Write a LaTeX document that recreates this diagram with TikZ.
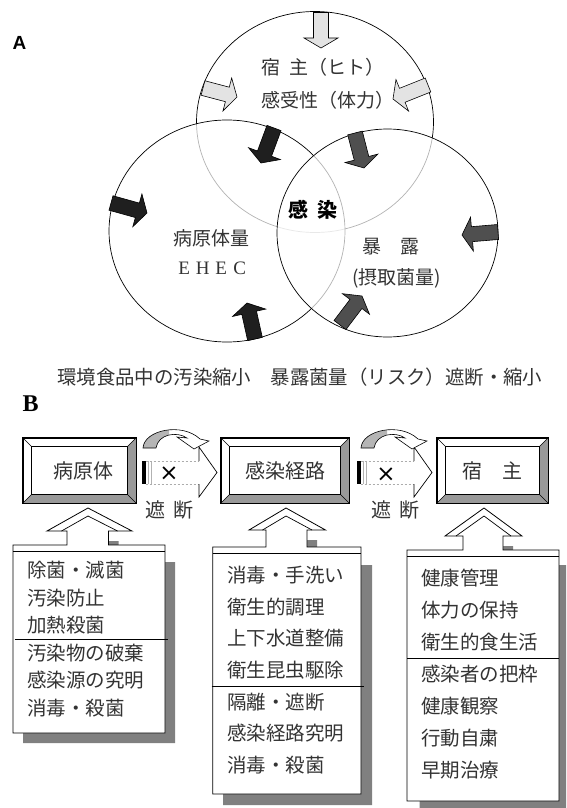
\documentclass[tikz,border=0pt]{standalone}
\usepackage{fontspec}
\setmainfont{Liberation Serif}
\newfontfamily\jp{Noto Sans CJK JP}
\newfontfamily\lsans{Liberation Sans}
\newfontfamily\dejavu{DejaVu Sans}
\usetikzlibrary{calc,shapes.geometric}
\newcommand\fs[1]{\fontsize{#1}{#1}\selectfont}
\definecolor{lgfill}{HTML}{E3E3E3}
\definecolor{dkfill}{HTML}{1F1F1F}
\definecolor{mdfill}{HTML}{4F4F4F}
\definecolor{bevgray}{HTML}{999999}
\definecolor{shadowgray}{HTML}{808080}
\definecolor{txtgray}{HTML}{333333}
\definecolor{bandgray}{HTML}{B5B5B5}
% block arrow: fill, tail, tip
\newcommand\barrow[3]{%
  \coordinate (ba) at #2;
  \coordinate (bb) at #3;
  \coordinate (bh) at ($(bb)!10pt!(ba)$);
  \draw[fill=#1, line width=0.6pt, line join=miter]
    ($(ba)!7.5pt!90:(bb)$) -- ($(bh)!7.5pt!90:(bb)$) -- ($(bh)!17pt!90:(bb)$)
    -- (bb) -- ($(bh)!17pt!-90:(bb)$) -- ($(bh)!7.5pt!-90:(bb)$)
    -- ($(ba)!7.5pt!-90:(bb)$) -- cycle;}
% bevel frame around a named node
\newcommand\bevel[1]{%
  \fill[bevgray] (#1.north east) -- (#1.south east) -- ($(#1.south east)+(-9,-9)$) -- ($(#1.north east)+(-9,9)$) -- cycle;
  \fill[bevgray] (#1.south west) -- (#1.south east) -- ($(#1.south east)+(-9,-9)$) -- ($(#1.south west)+(9,-9)$) -- cycle;
  \draw[line width=0.8pt] (#1.north west) rectangle (#1.south east);
  \draw[line width=0.8pt] ($(#1.north west)+(9,9)$) rectangle ($(#1.south east)+(-9,-9)$);
  \draw[line width=0.6pt] (#1.north west) -- ($(#1.north west)+(9,9)$)
     (#1.north east) -- ($(#1.north east)+(-9,9)$)
     (#1.south west) -- ($(#1.south west)+(9,-9)$)
     (#1.south east) -- ($(#1.south east)+(-9,-9)$);}
\newcommand\curvpath{(143,448) .. controls (144,430) and (182,422) .. (200,439) -- (209,441) -- (194,449) -- (177,437) -- (187,438) .. controls (177,431) and (158,434) .. (156,448) -- cycle}
\newcommand\curvarrow[1]{%
  \begin{scope}[xshift=#1]
    \fill[white] \curvpath;
    \begin{scope}
      \clip (130,415) rectangle (169,452);
      \fill[bandgray] \curvpath;
    \end{scope}
    \draw[line width=0.6pt, line join=miter] \curvpath;
  \end{scope}}
\newcommand\stripearrow[1]{%
  \begin{scope}[xshift=#1]
    \fill (142,461) rectangle (145.5,484);
    \draw[gray!60, line width=0.5pt] (148.5,461) -- (148.5,484) (151.5,461) -- (151.5,484);
    \draw[gray!65, dashed, dash pattern=on 2.5pt off 1.5pt, line width=0.6pt] (145.5,461) -- (199,461) (145.5,484) -- (199,484);
    \draw[line width=0.7pt, line join=miter] (199,461) -- (199,447) -- (217,472.5) -- (199,497) -- (199,484);
  \end{scope}}
\begin{document}
\begin{tikzpicture}[x=1pt,y=-1pt,
  txt/.style={inner sep=0pt, text=txtgray, font=\jp\fs{19}},
  coltxt/.style={inner sep=0pt, text=txtgray, font=\jp\fs{19.5}, anchor=west},
  boxnode/.style={draw, line width=0.8pt, inner sep=0pt, fill=white, text=txtgray, font=\jp\fs{20}, minimum height=65pt},
  circ/.style={ellipse, draw, line width=0.7pt, inner sep=0pt},
  callout/.style={draw, fill=white, line width=0.8pt, line join=miter},
  crossmark/.style={inner sep=0pt, font=\dejavu\fs{23}},
  shadowfill/.style={fill=shadowgray}]
\useasboundingbox (0,0) rectangle (567,808);

% ---------- Part A ----------
\node[inner sep=0pt, anchor=base west, font=\lsans\bfseries\fs{19}] (labA) at (12.5,50) {A};

\node[circ, minimum width=237pt, minimum height=221pt] (host) at (315,122) {};
\node[circ, fill=white, fill opacity=0.7, draw opacity=1, minimum width=236pt, minimum height=222pt] (pathogen) at (227,231) {};
\node[circ, fill=white, fill opacity=0.7, draw opacity=1, minimum width=221pt, minimum height=208pt] (exposure) at (387.5,233) {};

\barrow{lgfill}{(321,12.5)}{(321,48)}
\barrow{lgfill}{(203,88)}{(237,97)}
\barrow{lgfill}{(428,85)}{(393,99)}
\barrow{dkfill}{(274,128)}{(261,163)}
\barrow{dkfill}{(111,203)}{(147,213)}
\barrow{dkfill}{(255,339)}{(247,303)}
\barrow{mdfill}{(355,133)}{(364,168)}
\barrow{mdfill}{(498,232)}{(462,235)}
\barrow{mdfill}{(340,325)}{(362,296)}

\node[txt, anchor=west] (hostA) at (261,67) {宿\hspace{9pt}主（ヒト）};
\node[txt, anchor=west] (hostB) at (261,100) {感受性（体力）};
\node[inner sep=0pt, font=\jp\bfseries\fs{20}] (infect) at (312.5,210) {感\hspace{9pt}染};
\node[txt] (pathA) at (211,238) {病原体量};
\node[txt, font=\fs{19}] (pathB) at (212,268) {\makebox[18.5pt]{E}\makebox[18.5pt]{H}\makebox[18.5pt]{E}\makebox[18.5pt]{C}};
\node[txt] (expA) at (390.5,247) {暴　露};
\node[txt] (expB) at (396.5,278) {(摂取菌量)};

\node[txt, anchor=west, font=\jp\fs{19.4}] (caption) at (57,377) {環境食品中の汚染縮小　暴露菌量（リスク）遮断・縮小};

% ---------- Part B ----------
\node[inner sep=0pt, anchor=base west, font=\bfseries\fs{24}] (labB) at (22.5,411.5) {B};

\node[boxnode, minimum width=113pt] (b1) at (79.5,470.5) {\hspace*{9pt}病原体};
\node[boxnode, minimum width=128pt] (b2) at (285,470.5) {感染経路};
\node[boxnode, minimum width=111pt] (b3) at (492.5,470.5) {宿　主};
\bevel{b1}
\bevel{b2}
\bevel{b3}

\stripearrow{0pt}
\stripearrow{215pt}
\curvarrow{0pt}
\curvarrow{218pt}
\node[crossmark] (x1) at (169,474) {×};
\node[crossmark] (x2) at (386,475) {×};
\node[txt, font=\jp\fs{20}] (cut1) at (169,510) {遮\hspace{8pt}断};
\node[txt, font=\jp\fs{20}] (cut2) at (395,510) {遮\hspace{8pt}断};

% callout column 1
\fill[shadowfill] (23,562) -- (77,562) -- (77,541) -- (118.5,541) -- (118.5,562) -- (175,562) -- (175,743) -- (23,743) -- cycle;
\draw[callout] (13,545) -- (67,545) -- (67,531) -- (47,531) -- (88,508) -- (132,531) -- (108.5,531) -- (108.5,545) -- (165,545) -- (165,733) -- (13,733) -- cycle;
\draw[line width=0.7pt] (61.5,531) -- (88,516) -- (117.5,531);
\draw[line width=0.7pt] (13,551) -- (165,551);
\draw[line width=0.7pt] (14.5,639) -- (168,639);
\foreach \t [count=\i] in {除菌・滅菌,汚染防止,加熱殺菌,汚染物の破棄,感染源の究明,消毒・殺菌}
  \node[coltxt] (ca-\i) at ({27},{570+27.6*(\i-1)}) {\t};

% callout column 2
\fill[shadowfill] (223,565) -- (276,565) -- (276,540) -- (317,540) -- (317,565) -- (372,565) -- (372,805) -- (223,805) -- cycle;
\draw[callout] (212.7,547) -- (266,547) -- (266,530) -- (249,530) -- (286,508) -- (325.5,530) -- (307,530) -- (307,547) -- (361,547) -- (361,794) -- (212.7,794) -- cycle;
\draw[line width=0.7pt] (262.5,530) -- (286,516) -- (312,530);
\draw[line width=0.7pt] (212.7,553) -- (361,553);
\draw[line width=0.7pt] (211.5,686) -- (363.5,686);
\foreach \t [count=\i] in {消毒・手洗い,衛生的調理,上下水道整備,衛生昆虫駆除,隔離・遮断,感染経路究明,消毒・殺菌}
  \node[coltxt] (cb-\i) at ({227},{575+31.7*(\i-1)}) {\t};

% callout column 3
\fill[shadowfill] (419.5,565) -- (473,565) -- (473,546) -- (513,546) -- (513,565) -- (566,565) -- (566,808) -- (419.5,808) -- cycle;
\draw[callout] (407,550) -- (463,550) -- (463,536) -- (445,536) -- (484,508) -- (522,536) -- (503,536) -- (503,550) -- (559,550) -- (559,801) -- (407,801) -- cycle;
\draw[line width=0.7pt] (456,536) -- (484,516) -- (511,536);
\draw[line width=0.7pt] (407,556) -- (559,556);
\draw[line width=0.7pt] (407,658) -- (559,658);
\foreach \t [count=\i] in {健康管理,体力の保持,衛生的食生活,感染者の把枠,健康観察,行動自粛,早期治療}
  \node[coltxt] (cc-\i) at ({421},{578+32*(\i-1)}) {\t};
\end{tikzpicture}
\end{document}
